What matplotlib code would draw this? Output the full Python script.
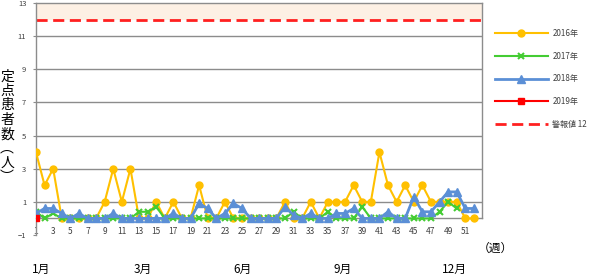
import numpy as np
import matplotlib
matplotlib.use('Agg')
import matplotlib.pyplot as plt

plt.rcParams['font.family'] = ['Noto Sans CJK JP', 'DejaVu Sans']

weeks = np.arange(1, 53)

y2016 = [4, 2, 3, 0, 0, 0, 0, 0, 1, 3,
         1, 3, 0, 0, 1, 0, 1, 0, 0, 2,
         0, 0, 1, 0, 0, 0, 0, 0, 0, 1,
         0, 0, 1, 0, 1, 1, 1, 2, 1, 1,
         4, 2, 1, 2, 1, 2, 1, 1, 1, 1,
         0, 0]
y2017 = [0.4, 0, 0.3, 0, 0, 0, 0, 0, 0, 0,
         0, 0, 0.4, 0.4, 0.7, 0, 0, 0, 0, 0,
         0, 0, 0, 0, 0, 0, 0, 0, 0, 0,
         0.4, 0, 0, 0, 0.4, 0, 0, 0, 0.7, 0,
         0, 0, 0, 0, 0, 0, 0, 0.4, 1.0, 0.6,
         np.nan, np.nan]
y2018 = [0.3, 0.6, 0.6, 0.3, 0, 0.3, 0, 0, 0, 0.3,
         0, 0, 0, 0, 0, 0, 0.3, 0, 0, 0.9,
         0.6, 0, 0.3, 0.9, 0.6, 0, 0, 0, 0, 0.7,
         0.2, 0, 0.3, 0, 0, 0.3, 0.3, 0.6, 0, 0,
         0, 0.4, 0, 0, 1.3, 0.4, 0.4, 1.0, 1.6, 1.6,
         0.6, 0.6]
y2019 = [0]
alert_level = 12

series_labels = ['2016年', '2017年', '2018年', '2019年']
month_labels = ['1月', '3月', '6月', '9月', '12月']
month_weeks = [1.6, 13.4, 25.1, 36.7, 49.7]


def draw():
    fig = plt.figure(figsize=(5.89, 2.76), dpi=100)
    ax = fig.add_axes([0.0611, 0.1486, 0.758, 0.8406])

    ax.axhspan(alert_level, 13, color='#FDF0E4', lw=0, zorder=0)
    for g in [1, 3, 5, 7, 9, 11]:
        ax.axhline(g, color='#8C8C8C', lw=1, zorder=1)

    ax.plot(weeks, y2016, color='#FFC000', lw=1.5, marker='o', ms=5,
            label=series_labels[0], zorder=3)
    ax.plot(weeks, y2017, color='#44CC33', lw=1.5, marker='x', ms=4.5, mew=1.5,
            label=series_labels[1], zorder=4)
    ax.plot(weeks, y2018, color='#5B8FD6', lw=2, marker='^', ms=5.5,
            label=series_labels[2], zorder=5)
    ax.plot(weeks[:len(y2019)], y2019, color='#FF0000', lw=1.5, marker='s', ms=5,
            label=series_labels[3], zorder=6)
    ax.axhline(alert_level, color='#FF2020', lw=2, ls=(0, (4, 2)),
               label='警報値 12', zorder=2)

    ax.set_xlim(1, 53)
    ax.set_ylim(-1, 13)
    ax.set_yticks(np.arange(-1, 14, 2))
    ax.set_xticks(np.arange(1, 52, 2))
    ax.tick_params(axis='y', labelsize=5.5, colors='#404040', length=2,
                   color='#8C8C8C', pad=5)
    ax.tick_params(axis='x', labelsize=6, colors='#404040', length=0, pad=6)

    for s in ['left', 'right', 'top', 'bottom']:
        ax.spines[s].set_color('#8C8C8C')
        ax.spines[s].set_linewidth(1)
    ax.spines['bottom'].set_position(('data', 0))
    ax.spines['right'].set_bounds(0, 13)

    for w, m in zip(month_weeks, month_labels):
        ax.text(w, -3.1, m, ha='center', va='center', fontsize=8.5, clip_on=False)
    ax.text(54.5, -1.8, '（週）', ha='center', va='center', fontsize=8.5, clip_on=False)

    ylabel = '定点患者数︵人︶'
    fig.text(0.012, 0.54, '\n'.join(ylabel), ha='center', va='center',
             fontsize=10, linespacing=1.03)

    ax.legend(loc='upper left', bbox_to_anchor=(0.840, 0.896),
              bbox_transform=fig.transFigure, frameon=False, fontsize=5.8,
              handlelength=6.6, handletextpad=0.55, labelspacing=1.72,
              borderpad=0, borderaxespad=0, labelcolor='#404040')

    fig.savefig('out.png', dpi=100)


if __name__ == '__main__':
    draw()
